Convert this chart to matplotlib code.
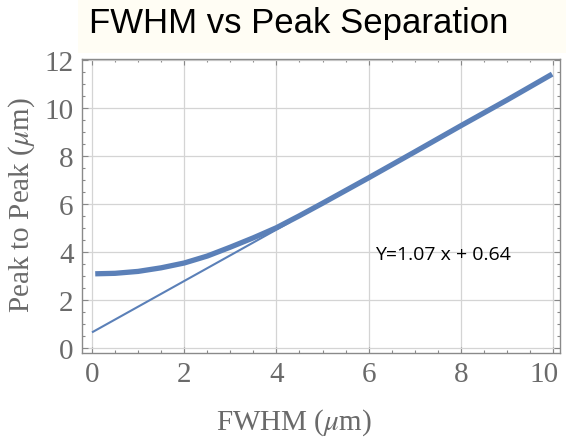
import matplotlib
matplotlib.use("Agg")
import matplotlib.pyplot as plt
from matplotlib.patches import Rectangle
from matplotlib.ticker import MultipleLocator
from matplotlib.transforms import ScaledTranslation
import numpy as np

# Data
fwhm = [0.07, 0.5, 1.0, 1.5, 2.0, 2.5, 3.0, 3.5, 4.0, 4.5, 5.0, 6.0, 7.0, 8.0, 9.0, 9.98]
peak = [3.08, 3.10, 3.18, 3.33, 3.53, 3.82, 4.19, 4.58, 5.00, 5.50, 6.02, 7.08, 8.16, 9.25, 10.32, 11.40]
fit_slope = 1.07
fit_intercept = 0.64
fit_x = [0.0, 4.3]

title = "FWHM vs Peak Separation"
xlabel = r"FWHM ($\mu$m)"
ylabel = r"Peak to Peak ($\mu$m)"
annot = "Y=1.07 x + 0.64"

plt.rcParams['mathtext.fontset'] = 'stix'
serif = ['Liberation Serif', 'DejaVu Serif']
gray = '#6a6a6a'
blue = '#5b80b8'

fig = plt.figure(figsize=(5.66, 4.39), dpi=100)
fig.patch.set_facecolor('white')
fig.patches.append(Rectangle((78/566, 1-54/439), 1-78/566, 54/439,
                             transform=fig.transFigure, facecolor='#fffdf4',
                             edgecolor='none', zorder=0))

ax = fig.add_axes([82/566, 1-354/439, (560-82)/566, (354-60)/439])
ax.set_xlim(-0.217, 10.15)
ax.set_ylim(-0.22, 12.03)

fx = np.array(fit_x)
ax.plot(fx, fit_slope*fx + fit_intercept, color=blue, lw=1.5, zorder=3,
        solid_capstyle='butt')
ax.plot(fwhm, peak, color=blue, lw=3.8, zorder=4, solid_capstyle='butt')

ax.xaxis.set_major_locator(MultipleLocator(2))
ax.xaxis.set_minor_locator(MultipleLocator(0.5))
ax.yaxis.set_major_locator(MultipleLocator(2))
ax.yaxis.set_minor_locator(MultipleLocator(0.5))
ax.grid(True, which='major', color='#d4d4d4', lw=0.9)
ax.set_axisbelow(True)
ax.tick_params(which='both', direction='in', top=True, right=True,
               color='#888888', width=0.8)
ax.tick_params(which='major', length=4, labelsize=21, labelcolor=gray, pad=6)
ax.tick_params(which='minor', length=2.2)
for lab in ax.get_xticklabels() + ax.get_yticklabels():
    lab.set_family(serif)
for s in ax.spines.values():
    s.set_color('#8a8a8a')
    s.set_linewidth(1.0)

fig.canvas.draw()
xt = ax.get_xticklabels()
last = [t for t in xt if t.get_text() == '10']
for t in last:
    t.set_transform(t.get_transform() + ScaledTranslation(-9/100, 0, fig.dpi_scale_trans))

ax.set_xlabel(xlabel, fontsize=21, color=gray, family=serif)
ax.set_ylabel(ylabel, fontsize=21, color=gray, family=serif)
ax.xaxis.set_label_coords((294-82)/478, (354-423)/294)
ax.yaxis.set_label_coords((22-82)/478, (354-205)/294)
ax.xaxis.label.set_va('center')
ax.yaxis.label.set_va('center')

fig.text(299/566, 1-24/439, title, ha='center', va='center', fontsize=25,
         family=['Liberation Sans', 'DejaVu Sans'], color='black')
fig.text(375/566, 1-255/439, annot, fontsize=14,
         family=['Open Sans', 'DejaVu Sans'], color='black', ha='left', va='center')

fig.savefig('out.png', dpi=100)
